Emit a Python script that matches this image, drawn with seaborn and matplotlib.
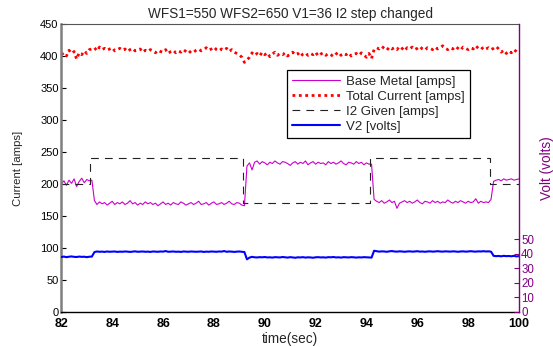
import numpy as np
import pandas as pd
import matplotlib
matplotlib.use("Agg")
import matplotlib.pyplot as plt
import seaborn as sns
from matplotlib import font_manager

# ---------------- data ----------------
time_start, time_end, n_samples = 82.0, 100.0, 181
time = np.round(np.linspace(time_start, time_end, n_samples), 1)

base_metal = [
    200, 205, 198, 206, 201, 208, 196, 204, 209, 202, 207, 205,
    206, 174,
    168, 172, 169, 171, 167, 170, 173, 168, 171, 169,
    172, 168, 170, 174, 169, 171, 167, 170, 168, 172,
    169, 171, 168, 170, 166, 169, 172, 168, 170, 167,
    171, 169, 168, 172, 170, 167, 169, 171, 168, 170,
    173, 168, 169, 171, 167, 170, 172, 168, 169, 171,
    168, 170, 173, 169, 168, 171, 170, 167,
    166, 228,
    233, 222, 234, 236, 231, 235, 233, 230, 234, 232,
    236, 233, 231, 235, 234, 232, 229, 233, 235, 231,
    234, 232, 236, 230, 233, 235, 231, 234, 232, 233,
    230, 235, 232, 234, 231, 233, 236, 232, 230, 234,
    233, 231, 235, 232, 234, 230, 233, 231,
    231, 176,
    173, 171, 174, 170, 172, 175, 171, 173, 162, 170,
    172, 174, 171, 173, 170, 172, 175, 171, 169, 173,
    172, 170, 174, 171, 173, 170, 172, 171, 175, 172,
    170, 173, 171, 174, 172, 170, 173, 171, 172, 177,
    170, 173, 171, 172,
    171, 176, 204,
    206, 207, 205, 208, 206, 207, 208, 206, 207, 208,
]

total_current = [
    402, 405, 400, 409, 404, 407, 395, 405, 402, 408, 404, 410,
    411, 413, 408, 414, 410, 412, 409, 411, 413, 408,
    410, 412, 409, 411, 407, 410, 412, 408, 409, 411,
    406, 409, 407, 410, 408, 405, 409, 407, 406, 410,
    404, 407, 409, 405, 408, 406, 410, 407, 404, 408,
    406, 409, 411, 408, 410, 413, 409, 411, 414, 410,
    408, 411, 409, 412, 407, 410, 406, 404, 402, 398,
    390, 394, 398, 405, 401,
    404, 400, 406, 402, 405, 399, 403, 406, 401, 404,
    402, 405, 400, 403, 406, 402, 404, 399, 403, 405,
    401, 404, 402, 406, 400, 403, 405, 401, 404, 402,
    399, 403, 406, 401, 404, 402, 405, 400, 403, 404,
    401, 405, 402, 398, 404,
    396, 410, 413, 411, 415, 412, 409, 414, 411, 413,
    410, 415, 412, 408, 413, 411, 414, 410, 412, 415,
    411, 409, 413, 412, 410, 414, 411, 413, 416, 412,
    410, 413, 411, 415, 412, 409, 414, 412, 410, 413,
    411, 416, 412, 410, 414, 411, 413, 410, 412, 415,
    411, 406, 409, 404, 408, 405, 410, 407, 404,
]

v2_volts = [
    37.8, 38.1, 37.7, 38.0, 38.2, 37.9, 37.8, 38.1, 37.9, 38.0, 37.7, 38.0,
    38.1, 41.2,
    41.6, 41.4, 41.5, 41.3, 41.6, 41.4, 41.5, 41.6, 41.3, 41.5,
    41.4, 41.6, 41.5, 41.3, 41.5, 41.7, 41.4, 41.5, 41.6, 41.4,
    41.5, 41.3, 41.6, 41.5, 41.4, 41.6, 41.5, 41.9, 41.4, 41.5,
    41.6, 41.4, 41.5, 41.3, 41.6, 41.5, 41.4, 41.6, 41.5, 41.4,
    41.5, 41.6, 41.3, 41.5, 41.4, 41.6, 41.5, 41.4, 41.6, 41.5,
    41.9, 41.4, 41.6, 41.5, 41.3, 41.5, 41.6, 41.4,
    41.2, 36.2,
    37.4, 37.9, 37.6, 37.5, 37.7, 37.6, 37.8, 37.5, 37.6, 37.4,
    37.7, 37.6, 37.5, 37.8, 37.6, 37.4, 37.7, 37.5, 37.3, 37.6,
    37.5, 37.7, 37.4, 37.6, 37.5, 37.3, 37.6, 37.7, 37.5, 37.6,
    37.4, 37.7, 37.6, 37.8, 37.5, 37.6, 37.4, 37.7, 37.6, 37.5,
    37.7, 37.6, 37.4, 37.6, 37.5, 37.7, 37.6, 37.5,
    37.4, 42.1,
    41.8, 41.5, 41.7, 41.6, 41.4, 41.7, 41.9, 41.6, 41.5, 41.7,
    41.6, 41.4, 41.6, 41.7, 41.5, 41.6, 41.8, 41.5, 41.6, 41.4,
    41.6, 41.7, 41.5, 41.6, 41.8, 41.6, 41.5, 41.7, 41.6, 41.5,
    41.7, 41.6, 41.4, 41.6, 41.7, 41.5, 41.6, 41.8, 41.6, 41.5,
    41.7, 41.6, 41.8, 41.6,
    41.7, 41.5, 38.6,
    38.4, 38.5, 38.3, 38.6, 38.4, 38.5, 38.3, 38.6, 38.2, 38.4,
]

i2_step_times = [82.0, 83.12, 89.13, 94.14, 98.86, 100.0]
i2_levels = [200, 240, 170, 240, 200, 200]

title_text = "WFS1=550 WFS2=650 V1=36 I2 step changed"
x_ticks = [82, 84, 86, 88, 90, 92, 94, 96, 98, 100]
y_ticks_left = [0, 50, 100, 150, 200, 250, 300, 350, 400, 450]
y_ticks_right = [0, 10, 20, 30, 40, 50]

df = pd.DataFrame({"time": time, "base": base_metal, "total": total_current, "v2": v2_volts})
df_i2 = pd.DataFrame({"time": i2_step_times, "i2": i2_levels})

# ---------------- style ----------------
sns.set_style("white")
avail = {f.name for f in font_manager.fontManager.ttflist}
fam = [f for f in ["Liberation Sans", "DejaVu Sans"] if f in avail]
plt.rcParams["font.family"] = fam
plt.rcParams["xtick.direction"] = "in"
plt.rcParams["ytick.direction"] = "in"

fig = plt.figure(figsize=(5.53, 3.47), dpi=100)
ax = fig.add_axes([0.111, 0.1009, 0.8275, 0.8299])

purple = "#800080"
magenta = "#CC00CC"

sns.lineplot(data=df, x="time", y="base", ax=ax, color=magenta, lw=0.8,
             label="Base Metal [amps]", estimator=None, sort=False)
sns.lineplot(data=df, x="time", y="total", ax=ax, color="#FF0000", lw=2.0,
             linestyle=(0, (1, 1.3)), label="Total Current [amps]", estimator=None, sort=False)
sns.lineplot(data=df_i2, x="time", y="i2", ax=ax, color="#222222", lw=0.8,
             drawstyle="steps-post", dashes=False, label="I2 Given [amps]",
             estimator=None, sort=False)
ax.lines[-1].set_linestyle((0, (7, 5.5)))

ax2 = ax.twinx()
sns.lineplot(data=df, x="time", y="v2", ax=ax2, color="#0000FF", lw=1.5,
             label="V2 [volts]", estimator=None, sort=False)

ax.set_xlim(82, 100)
ax.set_ylim(0, 450)
ax2.set_ylim(0, 198)
ax.set_xticks(x_ticks)
ax.set_yticks(y_ticks_left)
ax2.set_yticks(y_ticks_right)

ax.tick_params(axis="both", length=3.5, width=0.8, colors="black")
ax.tick_params(axis="y", labelsize=8, pad=2)
ax.tick_params(axis="x", labelsize=9, pad=4.5)
for t in ax.get_xticklabels():
    t.set_fontweight("bold")
ax2.tick_params(axis="y", labelsize=8.3, length=3.5, width=0.8, colors=purple, pad=1.5)

ax.set_xlabel("time(sec)", fontsize=9.8, labelpad=1)
ax.set_ylabel("Current [amps]", fontsize=8.2, labelpad=12)
ax2.set_ylabel("Volt (volts)", fontsize=9.8, color=purple, labelpad=4)
ax.set_title(title_text, fontsize=9.8, pad=4)

for a in (ax, ax2):
    for s in a.spines.values():
        s.set_visible(True)
ax.spines["left"].set_color("#7f7f7f")
ax.spines["left"].set_linewidth(1.8)
ax.spines["bottom"].set_color("black")
ax.spines["bottom"].set_linewidth(1.0)
ax.spines["top"].set_color("#555555")
ax.spines["top"].set_linewidth(0.8)
ax2.spines["left"].set_visible(False)
ax2.spines["bottom"].set_visible(False)
ax2.spines["top"].set_visible(False)
ax2.spines["right"].set_color(purple)
ax2.spines["right"].set_linewidth(1.0)
ax.spines["right"].set_visible(False)

h1, l1 = ax.get_legend_handles_labels()
h2, l2 = ax2.get_legend_handles_labels()
if ax.get_legend():
    ax.get_legend().remove()
if ax2.get_legend():
    ax2.get_legend().remove()
leg = ax2.legend(h1 + h2, l1 + l2, loc="upper left", bbox_to_anchor=(0.519, 0.798),
                 bbox_transform=fig.transFigure, fontsize=9.5, frameon=True, fancybox=False,
                 edgecolor="black", framealpha=1, handlelength=3.6, handletextpad=0.5,
                 labelspacing=0.22, borderpad=0.4, borderaxespad=0)
leg.get_frame().set_linewidth(0.9)

fig.savefig("out.png", dpi=100)
